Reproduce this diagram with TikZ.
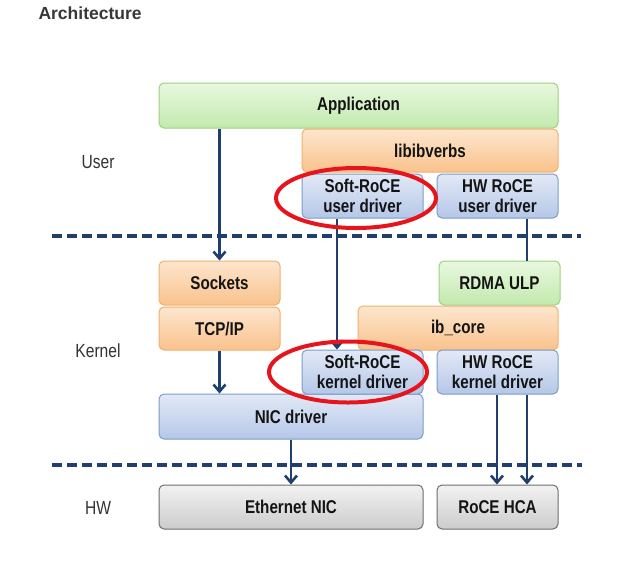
\documentclass[tikz,border=0pt]{standalone}
\usepackage{fontspec}
\setmainfont{Liberation Sans}
\newfontfamily\boxfont[FakeStretch=0.82]{Liberation Sans}
\usetikzlibrary{arrows.meta,shapes.geometric}
\definecolor{navy}{HTML}{1F406F}
\definecolor{gtop}{HTML}{E8F8DF}\definecolor{gbot}{HTML}{C3E9AE}\definecolor{gdraw}{HTML}{9CD27E}
\definecolor{otop}{HTML}{FDE6CE}\definecolor{obot}{HTML}{F9C28C}\definecolor{odraw}{HTML}{F2B070}
\definecolor{btop}{HTML}{E2E9F6}\definecolor{bbot}{HTML}{B5C7E8}\definecolor{bdraw}{HTML}{7B9CCB}
\definecolor{ytop}{HTML}{F2F2F2}\definecolor{ybot}{HTML}{CCCCCC}\definecolor{ydraw}{HTML}{6E6E6E}
\definecolor{ringred}{HTML}{E8141B}
\tikzset{
  box/.style={rectangle, rounded corners=5pt, line width=1pt, inner sep=0pt,
    font=\boxfont\bfseries\fontsize{18.5}{20}\selectfont, text=black!92, align=center},
  greenbox/.style={box, draw=gdraw, top color=gtop, bottom color=gbot},
  orangebox/.style={box, draw=odraw, top color=otop, bottom color=obot},
  bluebox/.style={box, draw=bdraw, top color=btop, bottom color=bbot},
  graybox/.style={box, draw=ydraw, top color=ytop, bottom color=ybot},
  layerlabel/.style={font=\boxfont\fontsize{19}{21}\selectfont, text=black!80},
  sep/.style={draw=navy, line width=3.8pt, dash pattern=on 10pt off 5pt},
  arr/.style={draw=navy, line width=2.6pt, -{Straight Barb[length=7pt,width=12pt,line width=2.6pt]}},
  plain/.style={draw=navy, line width=2.6pt},
  ring/.style={draw=ringred, line width=4pt},
}
\begin{document}
\begin{tikzpicture}[x=1pt,y=-1pt]
\useasboundingbox (0,0) rectangle (642,574);
\fill[white] (0,0) rectangle (642,574);
\node[anchor=west, font=\bfseries\fontsize{17.5}{20}\selectfont, text=black!78] (title) at (35,13) {Architecture};

% layer labels
\node[layerlabel] (luser) at (98,162) {User};
\node[layerlabel] (lkernel) at (98,351) {Kernel};
\node[layerlabel] (lhw) at (98,508) {HW};

% separators
\coordinate (s1a) at (52,236); \coordinate (s1b) at (581,236);
\coordinate (s2a) at (52,465); \coordinate (s2b) at (582,465);
\draw[sep] (s1a) -- (s1b);
\draw[sep] (s2a) -- (s2b);

% boxes
\node[greenbox, minimum width=399pt, minimum height=45pt] (app) at (358.5,105.5) {Application};
\node[orangebox, minimum width=256pt, minimum height=43pt] (verbs) at (430,150.5) {libibverbs};
\node[bluebox, minimum width=121pt, minimum height=44pt] (sruser) at (362.5,196) {Soft-RoCE\\user driver};
\node[bluebox, minimum width=121pt, minimum height=44pt] (hwuser) at (497.5,196) {HW RoCE\\user driver};

\node[orangebox, minimum width=121pt, minimum height=44pt] (sockets) at (219.5,283) {Sockets};
\node[orangebox, minimum width=121pt, minimum height=43pt] (tcpip) at (219.5,328.5) {TCP/IP};
\node[greenbox, minimum width=121pt, minimum height=44pt] (ulp) at (499.5,283) {RDMA ULP};
\node[orangebox, minimum width=200pt, minimum height=44pt] (ibcore) at (458,328) {ib\_core};
\node[bluebox, minimum width=264pt, minimum height=45pt] (nic) at (291,416.5) {NIC driver};
\node[bluebox, minimum width=121pt, minimum height=44pt] (srkernel) at (362.5,372) {Soft-RoCE\\kernel driver};
\node[bluebox, minimum width=121pt, minimum height=44pt] (hwkernel) at (497.5,372) {HW RoCE\\kernel driver};

\node[graybox, minimum width=264pt, minimum height=44pt] (eth) at (291,507) {Ethernet NIC};
\node[graybox, minimum width=121pt, minimum height=44pt] (hca) at (497.5,507) {RoCE HCA};

% connectors
\draw[arr] (app.south -| sockets) -- (sockets.north);
\coordinate (xsr) at (337,0);
\draw[arr] (sruser.south -| xsr) -- (srkernel.north -| xsr);
\coordinate (xhw) at (527,0);
\draw[plain] (hwuser.south -| xhw) -- (ulp.north -| xhw);
\draw[arr] (tcpip.south) -- (nic.north -| tcpip);
\draw[arr] (nic.south) -- (eth.north);
\coordinate (xhk) at (497,0);
\draw[arr] (hwkernel.south -| xhk) -- (hca.north -| xhk);
\draw[arr] (hwkernel.south -| xhw) -- (hca.north -| xhw);

% highlight rings
\node[ring, ellipse, minimum width=160pt, minimum height=60pt, inner sep=0pt] (ring1) at (356,198) {};
\node[ring, ellipse, minimum width=158pt, minimum height=61pt, inner sep=0pt] (ring2) at (348,372) {};
\end{tikzpicture}
\end{document}
